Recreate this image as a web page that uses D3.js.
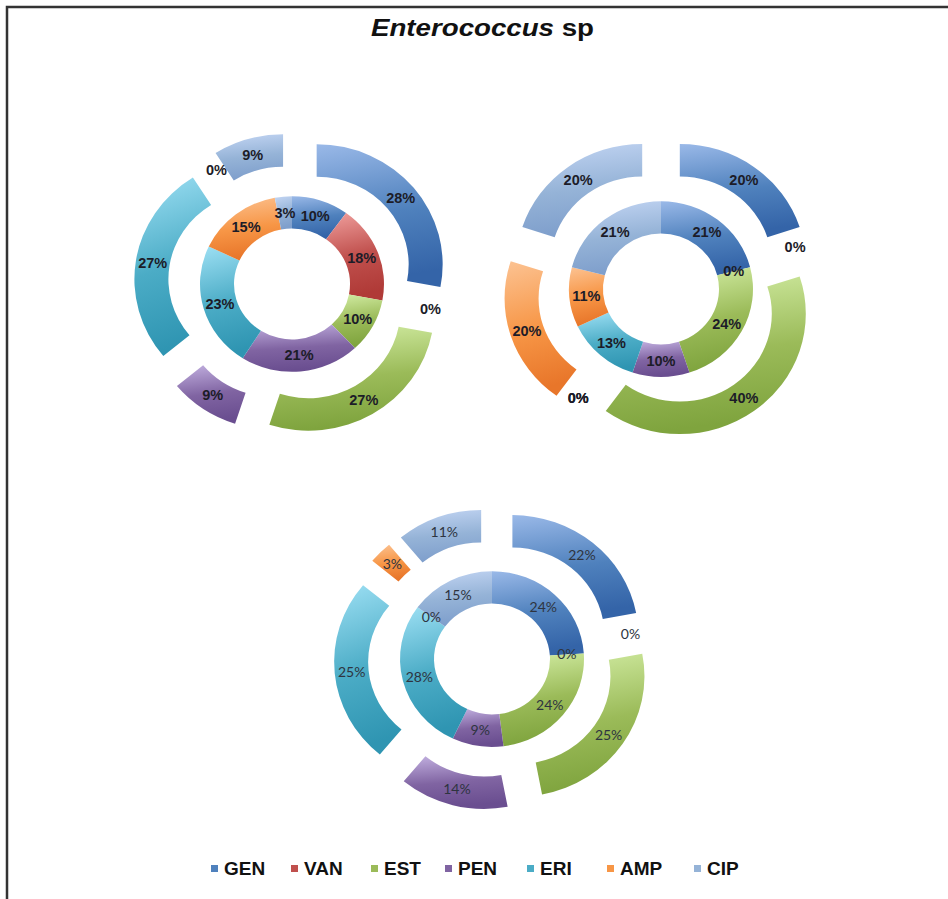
<!DOCTYPE html>
<html lang="en">

<head>
    <meta charset="UTF-8">
    <title>Enterococcus sp</title>
    <style>
        body {
            margin: 0;
            background: #fff;
        }

        .title {
            font-family: "Liberation Sans", Arial, sans-serif;
            font-size: 23px;
            font-weight: bold;
            fill: #111;
        }

        .legend text {
            font-family: "Liberation Sans", Arial, sans-serif;
            font-size: 19px;
            font-weight: bold;
            fill: #111;
        }
    </style>
</head>

<body>
    <script src="https://d3js.org/d3.v7.min.js"></script>
    <script>
        const width = 948;
        const height = 899;

        // categorias, mismo orden que la leyenda (sentido horario desde las 12)
        const categories = ['GEN', 'VAN', 'EST', 'PEN', 'ERI', 'AMP', 'CIP'];

        // porcentajes por anillo (interior / exterior) de cada grafico
        const chart1Inner = [10, 18, 10, 21, 23, 15, 3];
        const chart1Outer = [28, 0, 27, 9, 27, 0, 9];
        const chart2Inner = [21, 0, 24, 10, 13, 11, 21];
        const chart2Outer = [20, 0, 40, 0, 0, 20, 20];
        const chart3Inner = [24, 0, 24, 9, 28, 0, 15];
        const chart3Outer = [22, 0, 25, 14, 25, 3, 11];

        const baseColors = ['#4f81bd', '#c0504d', '#9bbb59', '#8064a2', '#4bacc6', '#f79646', '#95b3d7'];
        const lightColors = ['#9ab9e8', '#f0a09e', '#d4eea6', '#c2b0e0', '#9ee0f4', '#fcc393', '#c4d6f4'];
        const darkColors = ['#3464a8', '#b03a37', '#7fa43e', '#6a4e90', '#2f95b2', '#e8762a', '#7f9fcc'];

        const r0 = 58, r1 = 92, r2 = 126;
        const explode = 32;
        const squash = 0.955; // la imagen original esta algo aplastada en vertical

        const svg = d3.select('body').append('svg').attr('width', width).attr('height', height);

        // degradados tipo Excel 2007
        const defs = svg.append('defs');
        categories.forEach(function (c, i) {
            const g = defs.append('linearGradient')
                .attr('id', 'grad' + i)
                .attr('x1', 0).attr('y1', 0)
                .attr('x2', 0.15).attr('y2', 1);
            g.append('stop').attr('offset', '0%').attr('stop-color', lightColors[i]);
            g.append('stop').attr('offset', '55%').attr('stop-color', baseColors[i]);
            g.append('stop').attr('offset', '100%').attr('stop-color', darkColors[i]);
        });

        // marco
        svg.append('path')
            .attr('d', 'M7,' + height + ' L7,7 L' + width + ',7')
            .attr('fill', 'none')
            .attr('stroke', '#333')
            .attr('stroke-width', 2.5);

        // titulo
        const title = svg.append('text')
            .attr('class', 'title')
            .attr('x', 371).attr('y', 36)
            .attr('textLength', 223)
            .attr('lengthAdjust', 'spacingAndGlyphs');
        title.append('tspan').style('font-style', 'italic').text('Enterococcus');
        title.append('tspan').text(' sp');

        const pie = d3.pie().sort(null).value(function (d) { return d; });

        const drawDonut = function (cx, cy, inner, outer, labelStyle) {
            const g = svg.append('g').attr('transform', 'translate(' + cx + ',' + cy + ')');
            const rings = g.append('g').attr('transform', 'scale(1,' + squash + ')');

            const innerArc = d3.arc().innerRadius(r0).outerRadius(r1);
            const outerArc = d3.arc().innerRadius(r1).outerRadius(r2);

            const offset = function (d) {
                const a = (d.startAngle + d.endAngle) / 2;
                return [explode * Math.sin(a), -explode * Math.cos(a)];
            };

            rings.selectAll('.inner')
                .data(pie(inner))
                .enter()
                .append('path')
                .attr('class', 'inner')
                .attr('d', innerArc)
                .attr('fill', function (d, i) { return 'url(#grad' + i + ')'; });

            rings.selectAll('.outer')
                .data(pie(outer))
                .enter()
                .append('path')
                .attr('class', 'outer')
                .attr('transform', function (d) {
                    const o = offset(d);
                    return 'translate(' + o[0] + ',' + o[1] + ')';
                })
                .attr('d', outerArc)
                .attr('fill', function (d, i) { return 'url(#grad' + i + ')'; });

            const addLabels = function (arcs, arc, shift) {
                g.selectAll(null)
                    .data(arcs)
                    .enter()
                    .append('text')
                    .attr('x', function (d) {
                        const c = arc.centroid(d);
                        return c[0] + (shift ? offset(d)[0] : 0);
                    })
                    .attr('y', function (d) {
                        const c = arc.centroid(d);
                        return (c[1] + (shift ? offset(d)[1] : 0)) * squash;
                    })
                    .attr('dy', '0.35em')
                    .attr('text-anchor', 'middle')
                    .style('font-family', labelStyle.family)
                    .style('font-weight', labelStyle.weight)
                    .style('font-size', labelStyle.size)
                    .style('fill', labelStyle.color)
                    .text(function (d) { return d.data + '%'; });
            };

            addLabels(pie(inner), innerArc, false);
            addLabels(pie(outer), outerArc, true);
        };

        const boldLabels = { family: '"Liberation Sans", Arial, sans-serif', weight: 'bold', size: '14.5px', color: '#1c1c28' };
        const plainLabels = { family: 'Lato, "Open Sans", sans-serif', weight: 'normal', size: '14px', color: '#2e3440' };

        drawDonut(292, 284, chart1Inner, chart1Outer, boldLabels);
        drawDonut(661, 289, chart2Inner, chart2Outer, boldLabels);
        drawDonut(492, 659, chart3Inner, chart3Outer, plainLabels);

        // leyenda
        const legendX = [211, 291, 371, 445, 527, 607, 694];
        const legend = svg.append('g').attr('class', 'legend');
        const items = legend.selectAll('g')
            .data(categories)
            .enter()
            .append('g')
            .attr('transform', function (d, i) { return 'translate(' + legendX[i] + ',875)'; });
        items.append('rect')
            .attr('x', 0).attr('y', -10)
            .attr('width', 7).attr('height', 7)
            .attr('fill', function (d, i) { return baseColors[i]; });
        items.append('text')
            .attr('x', 13)
            .attr('y', 0)
            .text(function (d) { return d; });
    </script>
</body>

</html>
